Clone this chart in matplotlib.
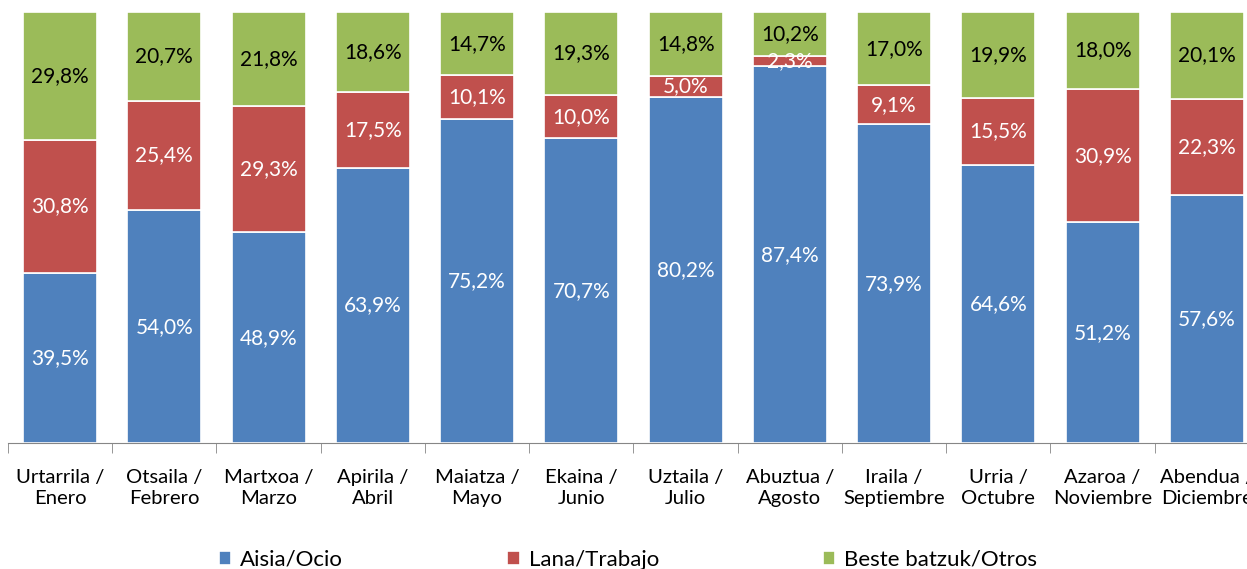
import numpy as np
import matplotlib
matplotlib.use("Agg")
import matplotlib.pyplot as plt

months = ["Urtarrila /\nEnero", "Otsaila /\nFebrero", "Martxoa /\nMarzo", "Apirila /\nAbril",
          "Maiatza /\nMayo", "Ekaina /\nJunio", "Uztaila /\nJulio", "Abuztua /\nAgosto",
          "Iraila /\nSeptiembre", "Urria /\nOctubre", "Azaroa /\nNoviembre", "Abendua /\nDiciembre"]
ocio = [39.5, 54.0, 48.9, 63.9, 75.2, 70.7, 80.2, 87.4, 73.9, 64.6, 51.2, 57.6]
trabajo = [30.8, 25.4, 29.3, 17.5, 10.1, 10.0, 5.0, 2.3, 9.1, 15.5, 30.9, 22.3]
otros = [29.8, 20.7, 21.8, 18.6, 14.7, 19.3, 14.8, 10.2, 17.0, 19.9, 18.0, 20.1]

series = [("Aisia/Ocio", ocio, "#4F81BD", "white"),
          ("Lana/Trabajo", trabajo, "#C0504D", "white"),
          ("Beste batzuk/Otros", otros, "#9BBB59", "black")]

plt.rcParams['font.family'] = ['Lato', 'DejaVu Sans']

fig = plt.figure(figsize=(12.47, 5.69), dpi=100)
ax = fig.add_axes([8 / 1247, 126 / 569, 1251 / 1247, 431 / 569])

x = np.arange(len(months))
bottom = np.zeros(len(months))
handles = []
for name, vals, color, tcol in series:
    vals = np.array(vals)
    bars = ax.bar(x, vals, 0.71, bottom=bottom, color=color, edgecolor="white",
                  linewidth=1.2, label=name)
    handles.append(bars)
    for xi, b, v in zip(x, bottom, vals):
        ax.text(xi, b + v / 2, f"{v:.1f}%".replace(".", ","), ha="center", va="center",
                color=tcol, fontsize=15)
    bottom += vals

ax.set_xlim(-0.5, len(months) - 0.5)
ax.set_ylim(0, 100)
ax.set_yticks([])
for s in ["top", "right", "left"]:
    ax.spines[s].set_visible(False)
ax.spines["bottom"].set_color("#868686")
ax.set_xticks(x)
ax.set_xticklabels(months, fontsize=14.6, linespacing=1.28)
ax.tick_params(axis="x", which="major", length=0, pad=19)
ax.set_xticks(np.arange(-0.5, len(months)), minor=True)
ax.tick_params(axis="x", which="minor", length=7, color="#868686")

leg = fig.legend(handles=handles, loc="lower left", bbox_to_anchor=(199 / 1247, -21 / 569),
                 ncol=3, frameon=False, fontsize=16, handlelength=0.55, handleheight=0.55,
                 handletextpad=0.4, columnspacing=7.4)

fig.savefig("out.png", dpi=100)
